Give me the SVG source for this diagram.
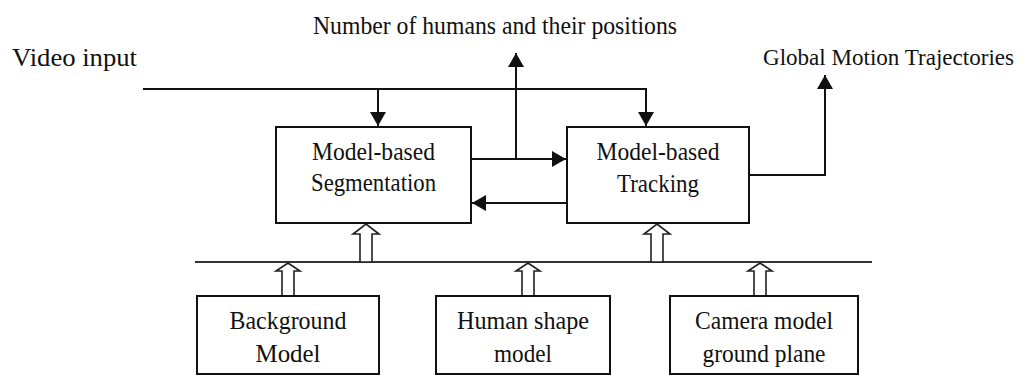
<svg xmlns="http://www.w3.org/2000/svg" xmlns:xlink="http://www.w3.org/1999/xlink" width="1021" height="376" viewBox="0 0 1021 376">
<style>
.box{fill:#fff;stroke:#111;stroke-width:2}
.t{font-family:"Liberation Serif",Tinos,"Times New Roman",Times,serif;font-size:25px;fill:#111;text-anchor:middle}
.lbl{font-family:"Liberation Serif",Tinos,"Times New Roman",Times,serif;font-size:25px;fill:#111}
.ln{fill:none;stroke:#111;stroke-width:2}
.bus{fill:none;stroke:#333;stroke-width:2}
.hol{fill:#fff;stroke:#222;stroke-width:1.6;stroke-linejoin:miter}
</style>
<defs>
<marker id="ah" markerUnits="userSpaceOnUse" markerWidth="15" markerHeight="16" refX="14" refY="8" orient="auto">
<path d="M0,0 L14,8 L0,16 Z" fill="#111"/>
</marker>
<path id="holLong" d="M0,0 L13,10 L6,10 L6,38 L-6,38 L-6,10 L-13,10 Z"/>
<path id="holShort" d="M0,0 L12,8 L6,8 L6,33 L-6,33 L-6,8 L-12,8 Z"/>
</defs>
<g id="connectors">
<polyline class="ln" points="143,89 646,89 646,126" marker-end="url(#ah)"/>
<line class="ln" x1="378" y1="89" x2="378" y2="126" marker-end="url(#ah)"/>
<line class="ln" x1="471" y1="159" x2="566" y2="159" marker-end="url(#ah)"/>
<line class="ln" x1="516" y1="159" x2="516" y2="53" marker-end="url(#ah)"/>
<line class="ln" x1="567" y1="203" x2="472" y2="203" marker-end="url(#ah)"/>
<polyline class="ln" points="749,175 825,175 825,75" marker-end="url(#ah)"/>
<line class="bus" x1="195" y1="262" x2="872" y2="262"/>
<use xlink:href="#holLong" href="#holLong" class="hol" x="366" y="224"/>
<use xlink:href="#holLong" href="#holLong" class="hol" x="657" y="224"/>
<use xlink:href="#holShort" href="#holShort" class="hol" x="288" y="263"/>
<use xlink:href="#holShort" href="#holShort" class="hol" x="528" y="263"/>
<use xlink:href="#holShort" href="#holShort" class="hol" x="760" y="263"/>
</g>
<g id="labels">
<text class="lbl" x="12" y="66" textLength="125" lengthAdjust="spacingAndGlyphs">Video input</text>
<text class="lbl" x="313" y="34" textLength="364" lengthAdjust="spacingAndGlyphs">Number of humans and their positions</text>
<text class="lbl" x="763" y="65" style="font-size:23px" textLength="251" lengthAdjust="spacingAndGlyphs">Global Motion  Trajectories</text>
</g>
<g id="segmentation">
<rect class="box" x="276" y="127" width="195" height="96"/>
<text class="t" x="373.5" y="160" textLength="123" lengthAdjust="spacingAndGlyphs">Model-based</text>
<text class="t" x="373.5" y="191" textLength="125" lengthAdjust="spacingAndGlyphs">Segmentation</text>
</g>
<g id="tracking">
<rect class="box" x="567" y="127" width="182" height="96"/>
<text class="t" x="658" y="160" textLength="123" lengthAdjust="spacingAndGlyphs">Model-based</text>
<text class="t" x="658" y="192" textLength="82" lengthAdjust="spacingAndGlyphs">Tracking</text>
</g>
<g id="background">
<rect class="box" x="197" y="296" width="182" height="78"/>
<text class="t" x="288" y="329" textLength="117" lengthAdjust="spacingAndGlyphs">Background</text>
<text class="t" x="288" y="362" textLength="65" lengthAdjust="spacingAndGlyphs">Model</text>
</g>
<g id="human">
<rect class="box" x="436" y="296" width="174" height="78"/>
<text class="t" x="523" y="329" textLength="132" lengthAdjust="spacingAndGlyphs">Human shape</text>
<text class="t" x="523" y="362" textLength="58" lengthAdjust="spacingAndGlyphs">model</text>
</g>
<g id="camera">
<rect class="box" x="670" y="296" width="188" height="78"/>
<text class="t" x="764" y="329" textLength="138" lengthAdjust="spacingAndGlyphs">Camera model</text>
<text class="t" x="764" y="362" textLength="123" lengthAdjust="spacingAndGlyphs">ground plane</text>
</g>
</svg>
